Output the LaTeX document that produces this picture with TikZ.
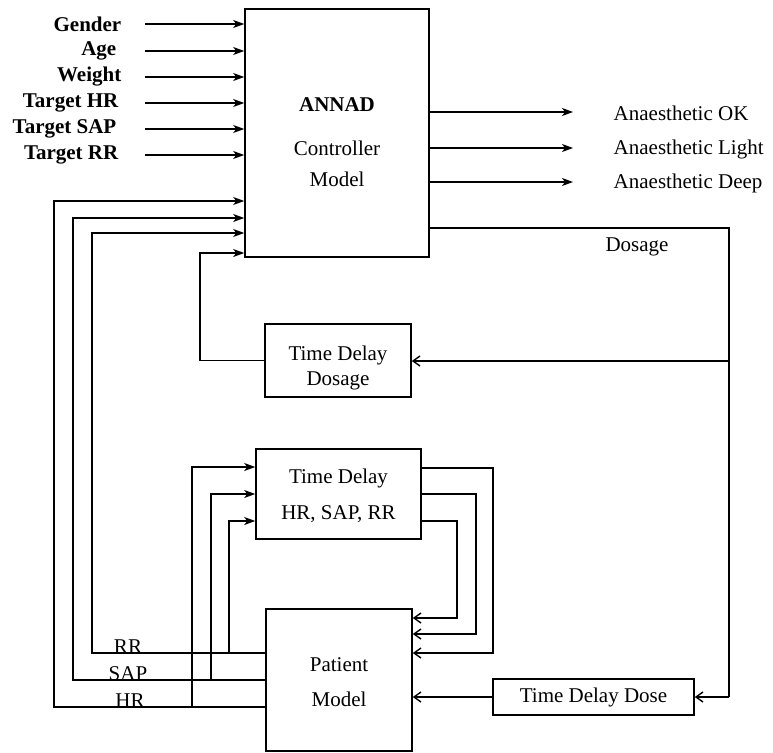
\documentclass[tikz,border=0pt]{standalone}
\usepackage{fontspec}
\setmainfont{Liberation Serif}
\usetikzlibrary{arrows.meta}
\begin{document}
\begin{tikzpicture}[x=1pt,y=-1pt,
  line width=1.4pt,
  every node/.style={font=\fontsize{21}{25}\selectfont},
  box/.style={draw,rectangle,inner sep=0pt,align=center,line width=1.6pt},
  lbl/.style={inner sep=0pt},
  inlbl/.style={inner sep=0pt,anchor=east,font=\fontsize{21}{25}\selectfont\bfseries},
  arr/.style={-{Stealth[length=11pt,width=8pt,inset=3pt]}},
  barb/.style={-{Straight Barb[length=7pt,width=10pt]}}]
\useasboundingbox (0,0) rectangle (773,752);

% blocks
\node[box,minimum width=184pt,minimum height=248pt] (ctrl) at (337,133) {};
\node[font=\fontsize{21}{25}\selectfont\bfseries,lbl] (annad) at (337,105) {ANNAD};
\node[lbl] (ctxt1) at (337,148) {Controller};
\node[lbl] (ctxt2) at (337,179) {Model};

\node[box,minimum width=146pt,minimum height=73pt] (tdd) at (338,360.5) {};
\node[lbl] (tddt1) at (338,355) {Time Delay};
\node[lbl] (tddt2) at (338,381) {Dosage};

\node[box,minimum width=165pt,minimum height=90pt] (tdhr) at (338.5,494) {};
\node[lbl] (tdhrt1) at (338.5,478) {Time Delay};
\node[lbl] (tdhrt2) at (338.5,514) {HR, SAP, RR};

\node[box,minimum width=146pt,minimum height=142pt] (pat) at (339,680) {};
\node[lbl] (patt1) at (339,665) {Patient};
\node[lbl] (patt2) at (339,699) {Model};

\node[box,minimum width=201pt,minimum height=36pt] (tddose) at (593.5,697) {Time Delay Dose};

% controller inputs
\node[inlbl] (gender) at (122,24) {Gender};
\node[inlbl] (age) at (117,51) {Age};
\node[inlbl] (weight) at (122,77) {Weight};
\node[inlbl] (thr) at (119,103) {Target HR};
\node[inlbl] (tsap) at (117,129) {Target SAP};
\node[inlbl] (trr) at (119,155) {Target RR};
\foreach \n/\y in {i1/24,i2/51,i3/77,i4/103,i5/129,i6/155}{
  \coordinate (\n) at (145,\y);
  \draw[arr] (\n) -- (\n -| ctrl.west);
}

% controller outputs
\foreach \n/\y/\t in {o1/112/Anaesthetic OK,o2/148/Anaesthetic Light,o3/182/Anaesthetic Deep}{
  \coordinate (\n) at (573,\y);
  \draw[arr] (ctrl.east |- \n) -- (\n);
  \node[lbl,anchor=west] (\n t) at (613,\y+1) {\t};
}

% dosage path
\coordinate (dtop) at (729,228);
\coordinate (dmid) at (729,361);
\coordinate (dbot) at (729,697);
\node[lbl] (dosage) at (637,247) {Dosage};
\draw (ctrl.east |- dtop) -- (dtop) -- (dbot);
\draw[barb] (dbot) -- (tddose.east);
\draw[barb] (dmid) -- (tdd.east |- dmid);
\coordinate (dret) at (200,253);
\draw[arr] (tdd.west) -- (tdd.west -| dret) -- (dret) -- (ctrl.west |- dret);
\draw[barb] (tddose.west) -- (pat.east |- tddose.west);

% patient feedback to controller
\coordinate (rr) at (92,653);
\coordinate (sap) at (73,680);
\coordinate (hr) at (54,707);
\draw[arr] (pat.west |- rr) -- (rr) -- (92,233) -- (ctrl.west |- 0,233);
\draw[arr] (pat.west |- sap) -- (sap) -- (73,218) -- (ctrl.west |- 0,218);
\draw[arr] (pat.west |- hr) -- (hr) -- (54,201) -- (ctrl.west |- 0,201);
\node[lbl,anchor=south] (rrl) at (128,654) {RR};
\node[lbl,anchor=south] (sapl) at (128,681) {SAP};
\node[lbl,anchor=south] (hrl) at (130,708) {HR};

% taps into the HR, SAP, RR delay
\draw[arr] (192,707) -- (192,467) -- (tdhr.west |- 0,467);
\draw[arr] (211,680) -- (211,494) -- (tdhr.west |- 0,494);
\draw[arr] (229,653) -- (229,521) -- (tdhr.west |- 0,521);

% delayed signals into the patient model
\draw[barb] (tdhr.east |- 0,468) -- (493,468) -- (493,653) -- (pat.east |- 0,653);
\draw[barb] (tdhr.east |- 0,494) -- (476,494) -- (476,634) -- (pat.east |- 0,634);
\draw[barb] (tdhr.east |- 0,521) -- (457,521) -- (457,618) -- (pat.east |- 0,618);
\end{tikzpicture}
\end{document}
